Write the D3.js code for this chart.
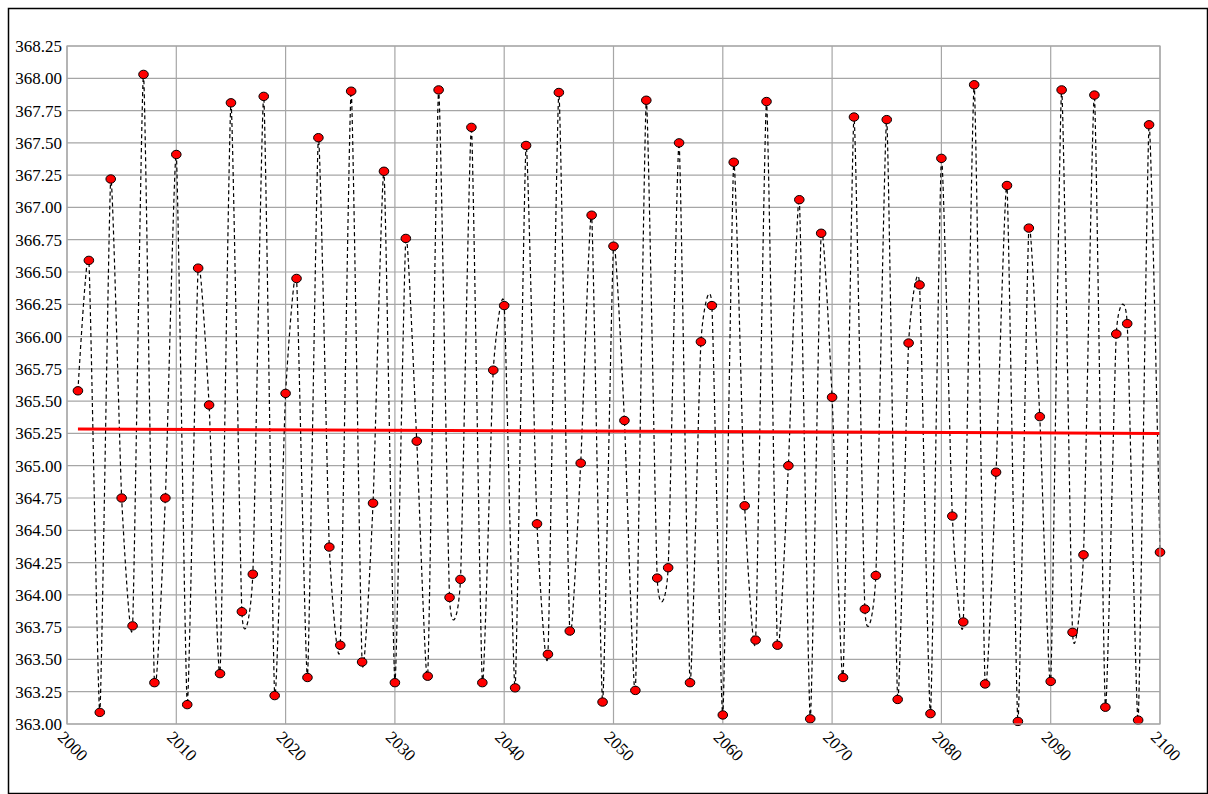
<!DOCTYPE html>
<html><head><meta charset="utf-8">
<script src="https://cdn.jsdelivr.net/npm/d3@7"></script>
<style>body{margin:0;background:#fff}svg{display:block}</style>
</head><body>
<svg id="chart" width="1208" height="794"></svg>
<script>
// Yearly values, 2001..2100
const years = d3.range(2001, 2101);
const values = [
  365.58, 366.59, 363.09, 367.22, 364.75, 363.76, 368.03, 363.32, 364.75, 367.41,
  363.15, 366.53, 365.47, 363.39, 367.81, 363.87, 364.16, 367.86, 363.22, 365.56,
  366.45, 363.36, 367.54, 364.37, 363.61, 367.90, 363.48, 364.71, 367.28, 363.32,
  366.76, 365.19, 363.37, 367.91, 363.98, 364.12, 367.62, 363.32, 365.74, 366.24,
  363.28, 367.48, 364.55, 363.54, 367.89, 363.72, 365.02, 366.94, 363.17, 366.70,
  365.35, 363.26, 367.83, 364.13, 364.21, 367.50, 363.32, 365.96, 366.24, 363.07,
  367.35, 364.69, 363.65, 367.82, 363.61, 365.00, 367.06, 363.04, 366.80, 365.53,
  363.36, 367.70, 363.89, 364.15, 367.68, 363.19, 365.95, 366.40, 363.08, 367.38,
  364.61, 363.79, 367.95, 363.31, 364.95, 367.17, 363.02, 366.84, 365.38, 363.33,
  367.91, 363.71, 364.31, 367.87, 363.13, 366.02, 366.10, 363.03, 367.64, 364.33
];
const yTicks = d3.range(363, 368.26, 0.25);
const xTicks = d3.range(2000, 2101, 10);

const data = years.map((yr, i) => ({year: yr, v: values[i]}));

const margin = {top: 46, right: 48, bottom: 70, left: 67};
const width = 1208 - margin.left - margin.right,
  height = 794 - margin.top - margin.bottom;

const svg = d3.select("#chart");
svg.append("rect").attr("x", 8.5).attr("y", 8.5).attr("width", 1199).attr("height", 785)
  .attr("fill", "none").attr("stroke", "#000").attr("stroke-width", 1.5);

const g = svg.append("g").attr("transform", `translate(${margin.left},${margin.top})`);

const x = d3.scaleLinear().domain([2000, 2100]).range([0, width]);
const y = d3.scaleLinear().domain([363, 368.25]).range([height, 0]);

// grid
g.selectAll(".hg").data(yTicks).join("line")
  .attr("x1", 0).attr("x2", width)
  .attr("y1", d => y(d)).attr("y2", d => y(d))
  .attr("stroke", "#a6a6a6").attr("stroke-width", 1.2);
g.selectAll(".vg").data(xTicks).join("line")
  .attr("x1", d => x(d)).attr("x2", d => x(d))
  .attr("y1", 0).attr("y2", height)
  .attr("stroke", "#a6a6a6").attr("stroke-width", 1.2);

// y labels
g.selectAll(".yl").data(yTicks).join("text")
  .attr("x", -5).attr("y", d => y(d)).attr("dy", "0.35em")
  .attr("text-anchor", "end")
  .attr("font-family", "Liberation Serif").attr("font-size", 17)
  .text(d3.format(".2f"));

// x labels
g.selectAll(".xl").data(xTicks).join("text")
  .attr("transform", d => `translate(${x(d) - 6},${height + 10}) rotate(45)`)
  .attr("dy", "0.35em")
  .attr("font-family", "Liberation Serif").attr("font-size", 17)
  .text(d3.format("d"));

// smoothed dashed line
const line = d3.line().x(d => x(d.year)).y(d => y(d.v)).curve(d3.curveCardinal.tension(0.5));
g.append("path").datum(data).attr("d", line)
  .attr("fill", "none").attr("stroke", "#000").attr("stroke-width", 1.2)
  .attr("stroke-dasharray", "4,3");

// linear trend
const mx = d3.mean(years), my = d3.mean(values);
const slope = d3.sum(data, d => (d.year - mx) * (d.v - my)) / d3.sum(data, d => (d.year - mx) ** 2);
const trend = [2001, 2100].map(yr => ({year: yr, v: my + slope * (yr - mx)}));
g.append("path").datum(trend).attr("d", d3.line().x(d => x(d.year)).y(d => y(d.v)))
  .attr("stroke", "#ff0000").attr("stroke-width", 3);

// markers
g.selectAll(".pt").data(data).join("ellipse")
  .attr("cx", d => x(d.year)).attr("cy", d => y(d.v))
  .attr("rx", 4.8).attr("ry", 4.2)
  .attr("fill", "#ff0000").attr("stroke", "#000").attr("stroke-width", 1);

// plot frame
g.append("rect").attr("width", width).attr("height", height)
  .attr("fill", "none").attr("stroke", "#a6a6a6").attr("stroke-width", 1.2);
</script>
</body></html>
